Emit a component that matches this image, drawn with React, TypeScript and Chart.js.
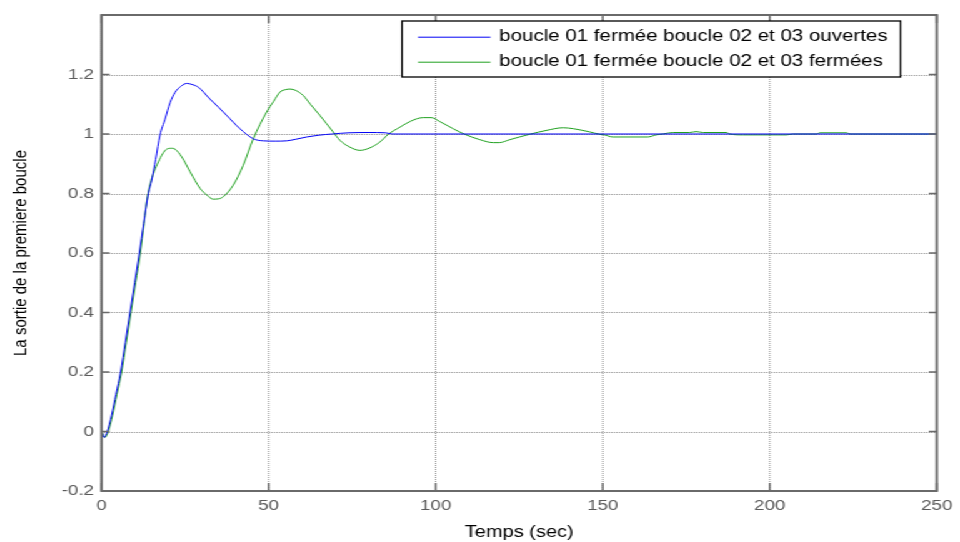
import React, { useEffect, useRef } from 'react';
import { Chart, registerables } from 'chart.js';

Chart.register(...registerables);

// Axis ticks
const xTicks = [0, 50, 100, 150, 200, 250];
const yTicks = [-0.2, 0, 0.2, 0.4, 0.6, 0.8, 1, 1.2];

const seriesLabels = [
  'boucle 01 fermée boucle 02 et 03 ouvertes',
  'boucle 01 fermée boucle 02 et 03 fermées',
];

// Loop 1 closed, loops 2 and 3 open
const openTimes = [
  0, 0.75, 1.7, 3, 4.3, 5.7, 7.1, 8.5, 9.9, 11.3, 12.6, 14, 15, 16.2, 17.5, 19, 20.5, 22,
  23.7, 25.5, 27.2, 29, 32.4, 35, 37.4, 41.4, 45.4, 48.4, 52, 55.4, 58, 61.4, 65, 69, 74,
  80, 85, 87, 100, 150, 200, 250,
];
const openValues = [
  0, -0.02, 0, 0.055, 0.125, 0.2, 0.3, 0.4, 0.5, 0.6, 0.7, 0.8, 0.845, 0.915, 0.997, 1.05,
  1.105, 1.14, 1.16, 1.17, 1.166, 1.157, 1.118, 1.09, 1.063, 1.018, 0.984, 0.977, 0.976,
  0.977, 0.982, 0.99, 0.996, 1.0, 1.004, 1.005, 1.004, 1.0, 1.0, 1.0, 1.0, 1.0,
];

// Loop 1 closed, loops 2 and 3 closed
const closedTimes = [
  0, 1.0, 2.0, 3.3, 4.6, 6.0, 7.4, 8.8, 10.2, 11.6, 12.7, 13.5, 14.5, 17, 19.5, 21, 22, 24,
  26.5, 29.5, 31.5, 33.4, 35, 36.4, 39.4, 42.4, 45.4, 49.4, 51.5, 53.4, 55, 56.4, 58, 60.3,
  62.5, 65.3, 69.3, 71.3, 74.3, 77.3, 80, 83.3, 85.8, 89.3, 92.5, 96.2, 98.7, 101.2, 105.2,
  108.7, 113.2, 117.2, 119, 122.2, 128.1, 133.1, 138.1, 141.1, 146.1, 149.1, 150.5, 153,
  163.5, 166, 168, 171, 176, 178, 180, 187, 188, 192, 205, 207, 214, 215, 223, 224, 250,
];
const closedValues = [
  0, -0.02, 0, 0.055, 0.125, 0.2, 0.3, 0.4, 0.5, 0.6, 0.7, 0.772, 0.83, 0.906, 0.949, 0.952,
  0.949, 0.923, 0.873, 0.817, 0.795, 0.781, 0.782, 0.789, 0.828, 0.895, 0.984, 1.074, 1.11,
  1.141, 1.149, 1.151, 1.147, 1.13, 1.1, 1.063, 1.007, 0.979, 0.956, 0.945, 0.952, 0.973,
  0.999, 1.023, 1.043, 1.055, 1.055, 1.042, 1.018, 0.999, 0.981, 0.971, 0.971, 0.981, 0.999,
  1.012, 1.021, 1.018, 1.007, 0.999, 0.997, 0.99, 0.99, 0.997, 1.0, 1.005, 1.005, 1.008,
  1.005, 1.005, 1.0, 0.997, 0.997, 1.0, 1.0, 1.004, 1.004, 1.0, 1.0,
];

const FONT = '"Liberation Sans", Arial, Helvetica, sans-serif';
const W = 768;
const H = 542;
const STRETCH = 1.25;

const toPoints = (ts: number[], vs: number[]) => ts.map((t, i) => ({ x: t, y: vs[i] }));

// Box, dotted grid, inward ticks and boxed legend in the style of a MATLAB figure
const matlabFrame = {
  id: 'matlabFrame',
  beforeDatasetsDraw(chart: any) {
    const { ctx, chartArea: a, scales } = chart;
    const x = scales.x;
    const y = scales.y;
    ctx.save();
    ctx.strokeStyle = '#8c8c8c';
    ctx.lineWidth = 1;
    ctx.setLineDash([1, 1]);
    ctx.beginPath();
    xTicks.forEach((v) => {
      const px = x.getPixelForValue(v);
      ctx.moveTo(px, a.top);
      ctx.lineTo(px, a.bottom);
    });
    yTicks.forEach((v) => {
      const py = Math.round(y.getPixelForValue(v)) + 0.5;
      ctx.moveTo(a.left, py);
      ctx.lineTo(a.right, py);
    });
    ctx.stroke();
    ctx.restore();
  },
  afterDatasetsDraw(chart: any) {
    const { ctx, chartArea: a, scales, data } = chart;
    const x = scales.x;
    const y = scales.y;
    ctx.save();
    ctx.setLineDash([]);

    // inward tick marks on all four sides
    ctx.strokeStyle = '#6a6a6a';
    ctx.lineWidth = 1.5;
    ctx.beginPath();
    const tv = 8;
    const th = 8 / STRETCH;
    xTicks.forEach((v) => {
      const px = x.getPixelForValue(v);
      ctx.moveTo(px, a.bottom);
      ctx.lineTo(px, a.bottom - tv);
      ctx.moveTo(px, a.top);
      ctx.lineTo(px, a.top + tv);
    });
    yTicks.forEach((v) => {
      const py = y.getPixelForValue(v);
      ctx.moveTo(a.left, py);
      ctx.lineTo(a.left + th, py);
      ctx.moveTo(a.right, py);
      ctx.lineTo(a.right - th, py);
    });
    ctx.stroke();

    // axes box
    ctx.strokeStyle = '#6a6a6a';
    ctx.lineWidth = 2;
    ctx.strokeRect(a.left, a.top, a.right - a.left, a.bottom - a.top);

    // legend
    ctx.font = `16.4px ${FONT}`;
    const labels: string[] = data.datasets.map((d: any) => d.label);
    const textW = Math.max(...labels.map((l) => ctx.measureText(l).width));
    const padL = 12.8;
    const lineLen = 58;
    const gap = 7;
    const padR = 10.4;
    const boxW = padL + lineLen + gap + textW + padR;
    const right = a.right - 29;
    const left = right - boxW;
    const top = 21;
    const boxH = 56;
    ctx.fillStyle = '#ffffff';
    ctx.fillRect(left, top, boxW, boxH);
    ctx.strokeStyle = '#000000';
    ctx.lineWidth = 1.3;
    ctx.strokeRect(left, top, boxW, boxH);
    ctx.textBaseline = 'middle';
    ctx.textAlign = 'left';
    data.datasets.forEach((d: any, i: number) => {
      const rowY = top + 15.7 + i * 25;
      ctx.strokeStyle = d.borderColor;
      ctx.lineWidth = 1;
      ctx.beginPath();
      ctx.moveTo(left + padL, rowY + 0.5);
      ctx.lineTo(left + padL + lineLen, rowY + 0.5);
      ctx.stroke();
      ctx.fillStyle = '#000000';
      ctx.fillText(d.label, left + padL + lineLen + gap, rowY);
    });
    ctx.restore();
  },
};

export default function App() {
  const canvasRef = useRef<HTMLCanvasElement | null>(null);

  useEffect(() => {
    const canvas = canvasRef.current;
    if (!canvas) return;
    const chart = new Chart(canvas, {
      type: 'line',
      data: {
        datasets: [
          {
            label: seriesLabels[0],
            data: toPoints(openTimes, openValues),
            borderColor: '#0000f5',
            borderWidth: 1,
            pointRadius: 0,
            cubicInterpolationMode: 'monotone',
            fill: false,
          },
          {
            label: seriesLabels[1],
            data: toPoints(closedTimes, closedValues),
            borderColor: '#1fa01f',
            borderWidth: 1,
            pointRadius: 0,
            cubicInterpolationMode: 'monotone',
            fill: false,
          },
        ],
      },
      options: {
        responsive: false,
        animation: false,
        parsing: true,
        layout: { padding: { top: 13.5, right: 18, bottom: 0, left: 0 } },
        plugins: {
          legend: { display: false },
          tooltip: { enabled: false },
        },
        scales: {
          x: {
            type: 'linear',
            min: 0,
            max: 250,
            grid: { display: false, drawTicks: false },
            border: { display: false },
            afterBuildTicks: (s: any) => {
              s.ticks = xTicks.map((v) => ({ value: v }));
            },
            afterFit: (s: any) => {
              s.height = 51;
            },
            ticks: {
              autoSkip: false,
              maxRotation: 0,
              padding: 6,
              color: '#5a5a5a',
              font: { family: FONT, size: 15 },
              callback: (v: any) => String(v),
            },
            title: {
              display: true,
              text: 'Temps (sec)',
              color: '#000000',
              font: { family: FONT, size: 16 },
              padding: { top: 0, bottom: 0 },
            },
          },
          y: {
            type: 'linear',
            min: -0.2,
            max: 1.4,
            grid: { display: false, drawTicks: false },
            border: { display: false },
            afterBuildTicks: (s: any) => {
              s.ticks = yTicks.map((v) => ({ value: v }));
            },
            afterFit: (s: any) => {
              s.width = 81.2;
            },
            ticks: {
              autoSkip: false,
              padding: 6,
              color: '#5a5a5a',
              font: { family: FONT, size: 15 },
              callback: (v: any) => String(Math.round(Number(v) * 10) / 10),
            },
            title: {
              display: true,
              text: 'La sortie de la premiere boucle',
              color: '#000000',
              font: { family: FONT, size: 15 },
              padding: { top: 7.4, bottom: 0 },
            },
          },
        },
      },
      plugins: [matlabFrame],
    } as any);
    return () => chart.destroy();
  }, []);

  return (
    <div
      style={{
        position: 'absolute',
        left: 0,
        top: 0,
        width: W,
        height: H,
        background: '#ffffff',
        transform: `scaleX(${STRETCH})`,
        transformOrigin: '0 0',
      }}
    >
      <canvas ref={canvasRef} width={W} height={H} style={{ width: W, height: H, display: 'block' }} />
    </div>
  );
}
